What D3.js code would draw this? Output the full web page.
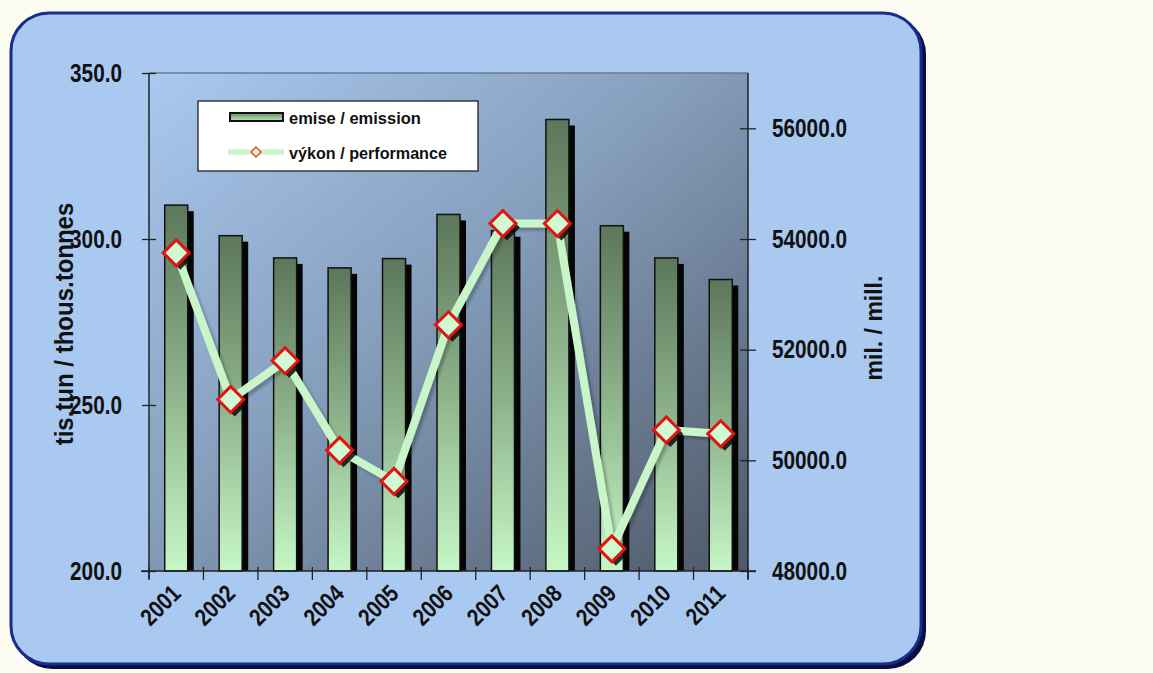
<!DOCTYPE html>
<html><head><meta charset="utf-8">
<script src="https://cdn.jsdelivr.net/npm/d3@7"></script>
<style>
html,body{margin:0;padding:0;background:#fbfbf1;}
svg{display:block;}
text{font-family:"Liberation Sans",Arial,sans-serif;font-weight:bold;fill:#111;}
</style></head>
<body>
<svg id="chart" width="1153" height="673"></svg>
<script>
const years = ["2001","2002","2003","2004","2005","2006","2007","2008","2009","2010","2011"];
const emissions = [310.2, 301.0, 294.3, 291.3, 294.1, 307.4, 302.5, 336.0, 304.0, 294.3, 287.8];
const performance = [53750, 51100, 51800, 50180, 49620, 52450, 54280, 54280, 48400, 50550, 50480];
const leftTicks = [200, 250, 300, 350];
const rightTicks = [48000, 50000, 52000, 54000, 56000];
const legendLabels = ["emise / emission", "výkon / performance"];
const leftTitle = "tis.tun / thous.tonnes";
const rightTitle = "mil. / mill.";

const svg = d3.select("#chart");
const defs = svg.append("defs");

const pg = defs.append("linearGradient").attr("id","plotGrad").attr("x1","0").attr("y1","0").attr("x2","1").attr("y2","1");
pg.append("stop").attr("offset","0").attr("stop-color","#a9c9f0");
pg.append("stop").attr("offset","0.45").attr("stop-color","#869fbd");
pg.append("stop").attr("offset","1").attr("stop-color","#4e5866");

const bg = defs.append("linearGradient").attr("id","barGrad").attr("x1","0").attr("y1","0").attr("x2","0").attr("y2","1");
bg.append("stop").attr("offset","0").attr("stop-color","#5c775a");
bg.append("stop").attr("offset","0.45").attr("stop-color","#88ac86");
bg.append("stop").attr("offset","1").attr("stop-color","#c6f7c6");

const lg = defs.append("linearGradient").attr("id","legBarGrad").attr("x1","0").attr("y1","0").attr("x2","0").attr("y2","1");
lg.append("stop").attr("offset","0").attr("stop-color","#6a8a66");
lg.append("stop").attr("offset","1").attr("stop-color","#b8e8b4");

const f = defs.append("filter").attr("id","lineShadow").attr("x","-10%").attr("y","-10%").attr("width","130%").attr("height","130%");
f.append("feGaussianBlur").attr("in","SourceAlpha").attr("stdDeviation","1.5").attr("result","b");
f.append("feOffset").attr("in","b").attr("dx","3").attr("dy","3").attr("result","o");
f.append("feComponentTransfer").attr("in","o").attr("result","o2").append("feFuncA").attr("type","linear").attr("slope","0.25");
const fm = f.append("feMerge"); fm.append("feMergeNode").attr("in","o2"); fm.append("feMergeNode").attr("in","SourceGraphic");

// panel
svg.append("rect").attr("x",14).attr("y",16).attr("width",912).attr("height",653).attr("rx",38).attr("fill","#0a0f40");
svg.append("rect").attr("x",11).attr("y",13).attr("width",910).attr("height",651).attr("rx",38)
  .attr("fill","#a9c9f0").attr("stroke","#1b2a8e").attr("stroke-width",3);

const L = 149, R = 748, T = 73, B = 571;

const x = d3.scaleBand().domain(years).range([L, R]).paddingInner(0).paddingOuter(0);
const yL = d3.scaleLinear().domain([200, 350]).range([B, T]);
const yR = d3.scaleLinear().domain([48000, 57000]).range([B, T]);

svg.append("rect").attr("x",L).attr("y",T).attr("width",R-L).attr("height",B-T).attr("fill","url(#plotGrad)");
svg.append("line").attr("x1",L).attr("x2",R).attr("y1",T).attr("y2",T).attr("stroke","#6d7a8c").attr("stroke-width",1.5);

// bars
const bw = 23, sh = 6;
const barG = svg.append("g");
barG.selectAll(".bshadow").data(years).join("rect")
  .attr("x", d => x(d) + x.bandwidth()/2 - bw/2 + sh)
  .attr("y", (d,i) => yL(emissions[i]) + sh)
  .attr("width", bw).attr("height", (d,i) => B - yL(emissions[i]) - sh)
  .attr("fill","#050505");
barG.selectAll(".bar").data(years).join("rect")
  .attr("x", d => x(d) + x.bandwidth()/2 - bw/2)
  .attr("y", (d,i) => yL(emissions[i]))
  .attr("width", bw).attr("height", (d,i) => B - yL(emissions[i]))
  .attr("fill","url(#barGrad)").attr("stroke","#111").attr("stroke-width",1.5);

// line
const pts = years.map((d,i)=>[x(d)+x.bandwidth()/2, yR(performance[i])]);
svg.append("path").attr("d", d3.line()(pts)).attr("fill","none")
  .attr("stroke","#c8f6c8").attr("stroke-width",8).attr("stroke-linejoin","round")
  .attr("filter","url(#lineShadow)");

// markers
const ms = 13;
const dia = s => `M0,${-s}L${s},0L0,${s}L${-s},0Z`;
svg.selectAll(".mshadow").data(pts).join("path")
  .attr("d", dia(ms)).attr("transform", p => `translate(${p[0]+4},${p[1]+4})`).attr("fill","#0a0a0a").attr("opacity",0.85);
svg.selectAll(".marker").data(pts).join("path")
  .attr("d", dia(ms)).attr("transform", p => `translate(${p[0]},${p[1]})`)
  .attr("fill","#d2fad2").attr("stroke","#e01414").attr("stroke-width",3);

// condensed text helper
function condense(sel, sx) {
  sel.each(function(){
    const t = d3.select(this);
    const xv = +t.attr("x") || 0;
    const yv = +t.attr("y") || 0;
    t.attr("x",0).attr("y",0).attr("transform",`translate(${xv},${yv}) scale(${sx},1)`);
  });
}

// axes
const axL = svg.append("g").attr("transform",`translate(${L},0)`)
  .call(d3.axisLeft(yL).tickValues(leftTicks).tickFormat(d3.format(".1f")).tickSizeInner(7).tickSizeOuter(0).tickPadding(20));
axL.selectAll(".tick line").attr("x2",7).attr("x1",-7);
const axR = svg.append("g").attr("transform",`translate(${R},0)`)
  .call(d3.axisRight(yR).tickValues(rightTicks).tickFormat(d3.format(".1f")).tickSizeInner(8).tickSizeOuter(0).tickPadding(16));
axR.selectAll(".tick line").attr("x1",-8).attr("x2",8);
[axL, axR].forEach(a => {
  a.select(".domain").attr("stroke","#222").attr("stroke-width",1.5);
  a.selectAll(".tick line").attr("stroke","#222").attr("stroke-width",1.3);
  a.selectAll(".tick text").attr("font-size",25).attr("fill","#111")
   .attr("font-family",'"Liberation Sans",Arial,sans-serif').attr("font-weight","bold");
  condense(a.selectAll(".tick text"), 0.83);
});
axL.select(".domain").attr("d",`M0,${B+8}V${T}`);
axR.select(".domain").attr("d",`M0,${B+8}V${T}`);

const xTicks = years.map(d=>x(d)).concat([R]);
const axB = svg.append("g");
axB.append("line").attr("x1",L-8).attr("x2",R+8).attr("y1",B).attr("y2",B).attr("stroke","#222").attr("stroke-width",1.5);
axB.selectAll(".xt").data(xTicks).join("line").attr("x1",d=>d).attr("x2",d=>d).attr("y1",B-4).attr("y2",B+9).attr("stroke","#222").attr("stroke-width",1.3);
axB.selectAll(".xl").data(years).join("text")
  .attr("transform", d => `translate(${x(d)+x.bandwidth()/2+6},${B+24}) rotate(-45) scale(0.85,1)`)
  .attr("text-anchor","end").attr("font-size",24).text(d=>d);

// axis titles
svg.append("text").attr("transform",`translate(73,324) rotate(-90) scale(0.96,1)`).attr("text-anchor","middle").attr("font-size",25).text(leftTitle);
svg.append("text").attr("transform",`translate(882,328) rotate(-90)`).attr("text-anchor","middle").attr("font-size",23).text(rightTitle);

// legend
const lgG = svg.append("g");
lgG.append("rect").attr("x",198).attr("y",101).attr("width",280).attr("height",70).attr("fill","#fff").attr("stroke","#222").attr("stroke-width",1.3);
lgG.append("rect").attr("x",230).attr("y",113).attr("width",53).attr("height",8).attr("fill","url(#legBarGrad)").attr("stroke","#111").attr("stroke-width",2);
lgG.append("line").attr("x1",228).attr("x2",284).attr("y1",152).attr("y2",152).attr("stroke","#c8f6c8").attr("stroke-width",5);
lgG.append("path").attr("d",dia(5)).attr("transform","translate(256,152)").attr("fill","#f4f0d8").attr("stroke","#e04020").attr("stroke-width",1.3);
lgG.append("text").attr("transform","translate(289,124) scale(0.97,1)").attr("font-size",17).text(legendLabels[0]);
lgG.append("text").attr("transform","translate(289,159) scale(0.95,1)").attr("font-size",17).text(legendLabels[1]);
</script>
</body></html>
